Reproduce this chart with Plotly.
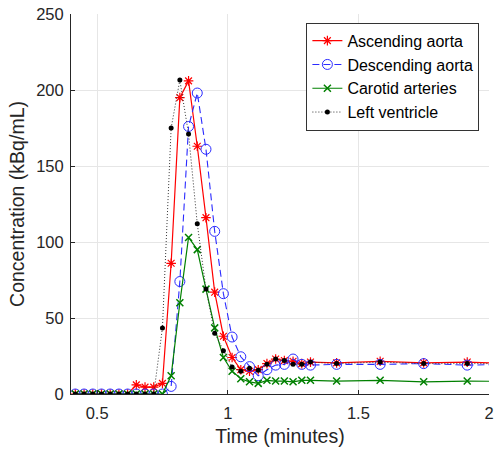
import plotly.graph_objects as go

# Frame mid-times (seconds): 2 s frames, then 10 s frames
time_s = [25, 27, 29, 31, 33, 35, 37, 39, 41, 43, 45, 47, 49, 51, 53, 55, 57,
          59, 61, 63, 65, 67, 69, 71, 73, 75, 77, 79, 85, 95, 105, 115, 125]

# Time-activity curves (kBq/mL)
ascending_aorta = [0, 0, 0, 0, 0, 0, 0, 6, 4.5, 4.5, 7, 86, 195, 206, 163, 116, 67,
                   38, 24, 16, 15, 16, 20, 23, 22, 21.5, 20, 21, 20.5, 21.5, 20.5, 21, 20]
descending_aorta = [0, 0, 0, 0, 0, 0, 0, 0, 0, 0, 0, 5, 74, 176, 198, 161, 107,
                    66, 37.5, 24.5, 18, 12, 16, 19, 19.5, 23, 19.5, 19, 19.5, 19.5, 20, 19, 19.5]
carotid_arteries = [0, 0, 0, 0, 0, 0, 0, 0, 0, 0, 0, 12, 60, 103, 95, 69, 43.5,
                    24, 15, 10, 8, 7, 9, 8.5, 8.5, 8, 9, 9, 8.5, 9, 8, 8.5, 8.3]
left_ventricle = [0, 0, 0, 0, 0, 0, 0, 0, 0, 0, 43.5, 175, 206.5, 171, 112, 69, 40,
                  28.5, 17.7, 15, 17, 15.7, 19.5, 23, 22, 19.5, 19.5, 21, 20, 21, 20, 20, 20]

x_ticks = [0.5, 1, 1.5, 2]
x_tick_labels = ["0.5", "1", "1.5", "2"]
y_ticks = [0, 50, 100, 150, 200, 250]

time_min = [t / 60 for t in time_s]

FONT = "Liberation Sans, Arial, sans-serif"
INK = "#262626"
GRID = "#e6e6e6"

fig = go.Figure()

fig.add_trace(go.Scatter(
    x=time_min, y=ascending_aorta, name="Ascending aorta", mode="lines+markers",
    line=dict(color="#ff0000", width=1.2),
    marker=dict(symbol="asterisk-open", size=8, color="#ff0000",
                line=dict(color="#ff0000", width=1.2)),
))
fig.add_trace(go.Scatter(
    x=time_min, y=descending_aorta, name="Descending aorta", mode="lines+markers",
    line=dict(color="#2b2bff", width=1.1, dash="7px,4px"),
    marker=dict(symbol="circle-open", size=10, color="#2b2bff",
                line=dict(color="#2b2bff", width=1)),
))
fig.add_trace(go.Scatter(
    x=time_min, y=carotid_arteries, name="Carotid arteries", mode="lines+markers",
    line=dict(color="#008000", width=1.2),
    marker=dict(symbol="x-thin-open", size=7, color="#008000",
                line=dict(color="#008000", width=1.5)),
))
fig.add_trace(go.Scatter(
    x=time_min, y=left_ventricle, name="Left ventricle", mode="lines+markers",
    line=dict(color="#333333", width=1, dash="1px,2px"),
    marker=dict(symbol="circle", size=5, color="#000000"),
))

fig.update_layout(
    width=499, height=452,
    margin=dict(l=71, r=5, t=11, b=58),
    paper_bgcolor="white", plot_bgcolor="white",
    font=dict(family=FONT, size=16.5, color=INK),
    legend=dict(
        x=0.977, y=0.977, xanchor="right", yanchor="top",
        bgcolor="white", bordercolor="#333333", borderwidth=1,
        font=dict(family=FONT, size=16, color="#000000"),
        itemwidth=30, tracegroupgap=0,
    ),
    xaxis=dict(
        range=[0.4, 2], tickvals=x_ticks, ticktext=x_tick_labels,
        showgrid=True, gridcolor=GRID, gridwidth=1,
        showline=True, linecolor=INK, linewidth=1,
        ticks="inside", ticklen=4, tickcolor=INK,
        zeroline=False, mirror=False, ticklabelstandoff=4,
        title=dict(text="Time (minutes)", font=dict(size=19.5, color=INK), standoff=8),
        tickfont=dict(size=16.5, color=INK),
    ),
    yaxis=dict(
        range=[0, 250], tickvals=y_ticks,
        showgrid=True, gridcolor=GRID, gridwidth=1,
        showline=True, linecolor=INK, linewidth=1,
        ticks="inside", ticklen=4, tickcolor=INK,
        zeroline=False, mirror=False, ticklabelstandoff=3,
        title=dict(text="Concentration (kBq/mL)", font=dict(size=19.5, color=INK), standoff=6),
        tickfont=dict(size=16.5, color=INK),
    ),
)

fig.write_html("out.html")
